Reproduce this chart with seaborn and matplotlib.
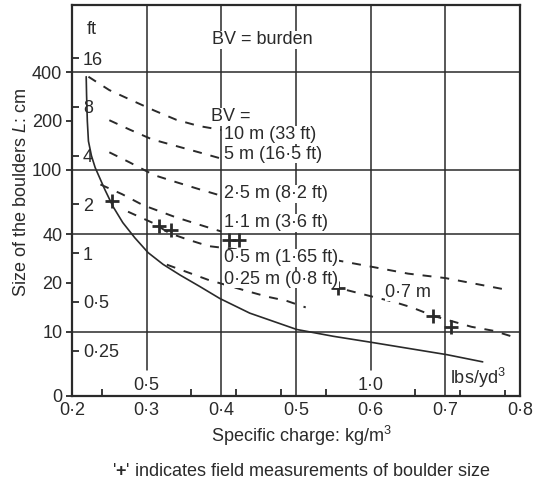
import matplotlib
matplotlib.use('Agg')
import matplotlib.pyplot as plt
import seaborn as sns
from matplotlib.ticker import NullLocator

# Values.
# x = specific charge (kg/m3), y = boulder size L (cm)
limit_x = [0.219, 0.2195, 0.2205, 0.222, 0.226, 0.231, 0.244, 0.255, 0.268, 0.284,
           0.302, 0.322, 0.345, 0.371, 0.398, 0.438, 0.501, 0.55, 0.603, 0.702, 0.75]
limit_y = [375, 290, 200, 150, 122, 103, 75.3, 59.1, 47.1, 38.0,
           30.7, 26.0, 22.3, 19.0, 16.0, 13.0, 10.3, 9.35, 8.55, 7.2, 6.5]

bv10_x = [0.222, 0.25, 0.28, 0.31, 0.34, 0.37, 0.40]
bv10_y = [375, 310, 268, 232, 203, 186, 176]
bv5_x = [0.25, 0.277, 0.307, 0.337, 0.37, 0.40]
bv5_y = [202, 177, 154, 141, 128, 117]
bv25_x = [0.25, 0.277, 0.31, 0.34, 0.37, 0.40]
bv25_y = [128, 111, 92.5, 83.6, 75.8, 69]
bv11_x = [0.238, 0.267, 0.295, 0.338, 0.37, 0.40]
bv11_y = [81, 70.6, 60.4, 51, 45.8, 41.5]
bv05_x = [0.275, 0.31, 0.33, 0.355, 0.383, 0.40, 0.55, 0.60, 0.65, 0.70, 0.78]
bv05_y = [55, 46.5, 40.6, 37, 33.7, 33, 27.8, 25.2, 22.8, 21.4, 18.2]
bv025_x = [0.327, 0.382, 0.436, 0.462, 0.487, 0.513]
bv025_y = [25.9, 20.9, 17.7, 16.4, 15.5, 14.1]
field07_x = [0.545, 0.575, 0.603, 0.63, 0.655, 0.684, 0.735, 0.765, 0.79]
field07_y = [19.2, 17.7, 16.4, 15.3, 14.1, 12.5, 10.7, 10.1, 9.3]

# field measurements ('+')
plus_x = [0.254, 0.316, 0.333, 0.41, 0.424, 0.556, 0.684, 0.707]
plus_y = [64, 45, 42.5, 37, 37, 18.7, 12.5, 10.6]

bv_labels = ['10 m (33 ft)', '5 m (16·5 ft)', '2·5 m (8·2 ft)',
             '1·1 m (3·6 ft)', '0·5 m (1·65 ft)', '0·25 m (0·8 ft)']

cm_ticks = [4.0, 10, 20, 40, 100, 200, 400]
cm_tick_labels = ['0', '10', '20', '40', '100', '200', '400']
ft_ticks = [16, 8, 4, 2, 1, 0.5, 0.25]
ft_tick_labels = ['16', '8', '4', '2', '1', '0·5', '0·25']
kg_ticks = [0.2, 0.3, 0.4, 0.5, 0.6, 0.7, 0.8]
kg_tick_labels = ['0·2', '0·3', '0·4', '0·5', '0·6', '0·7', '0·8']
lb_major = [0.5, 1.0]
lb_major_labels = ['0·5', '1·0']
lb_minor = [0.4, 0.6, 0.7, 0.8, 0.9, 1.1, 1.2, 1.3]

cm_grid = [10, 40, 100, 400]
kg_grid = [0.4, 0.5, 0.7]

FT_TO_CM = 30.48
LB_TO_KG = 0.6  # the figure's lbs/yd3 scale puts 1.0 lbs/yd3 at 0.6 kg/m3

sns.set_style('white')
plt.rcParams['font.family'] = ['Liberation Sans', 'DejaVu Sans']
plt.rcParams['font.size'] = 13
plt.rcParams['mathtext.fontset'] = 'custom'
plt.rcParams['mathtext.rm'] = 'Liberation Sans'
plt.rcParams['mathtext.it'] = 'Liberation Sans:italic'
plt.rcParams['mathtext.bf'] = 'Liberation Sans:bold'
INK = '#2a2a2a'
DASH = (0, (4.6, 4.6))
box = dict(facecolor='white', edgecolor='none', pad=0.3)

fig = plt.figure(figsize=(5.35, 4.86), dpi=100)
ax = fig.add_axes([0.1346, 0.1852, 0.8374, 0.8045])
ax.set_yscale('log')
ax.set_xlim(0.2, 0.8)
ax.set_ylim(4.0, 1040)

# grid
for y in cm_grid:
    ax.axhline(y, color=INK, lw=1.1, zorder=1)
for x in kg_grid:
    ax.axvline(x, color=INK, lw=1.1, zorder=1)
for lb in lb_major:
    ax.axvline(lb * LB_TO_KG, ymin=0.066, color=INK, lw=1.1, zorder=1)

# curves
sns.lineplot(x=limit_x, y=limit_y, ax=ax, color=INK, lw=1.2, sort=False, estimator=None, zorder=3)
for xs, ys in [(bv10_x, bv10_y), (bv5_x, bv5_y), (bv25_x, bv25_y), (bv11_x, bv11_y),
               (bv05_x, bv05_y), (bv025_x, bv025_y), (field07_x, field07_y)]:
    sns.lineplot(x=xs, y=ys, ax=ax, color=INK, lw=1.4, linestyle=DASH,
                 sort=False, estimator=None, zorder=3)
sns.scatterplot(x=plus_x, y=plus_y, ax=ax, marker='+', s=100, color=INK, linewidth=2, zorder=4)

# labels on the curves
label_y = [164, 124, 71, 47, 28.6, 21]
for txt, y in zip(bv_labels, label_y):
    ax.text(0.404, y, txt, ha='left', va='center', color=INK, bbox=box, zorder=5)
ax.text(0.386, 212, 'BV =', ha='left', va='center', color=INK, bbox=box, zorder=5)
ax.text(0.387, 635, 'BV = burden', ha='left', va='center', color=INK, bbox=box, zorder=5)
ax.text(0.619, 17.4, '0·7 m', ha='left', va='center', color=INK, bbox=box, zorder=5)
ax.text(0.706, 0.015, 'lbs/yd$^3$', transform=ax.get_xaxis_transform(),
        ha='left', va='bottom', color=INK, bbox=box, zorder=5)
ax.text(0.032, 730, 'ft', transform=ax.get_yaxis_transform(),
        ha='left', va='center', color=INK)

# main axes ticks
ax.set_yticks(cm_ticks, labels=cm_tick_labels)
ax.yaxis.set_minor_locator(NullLocator())
ax.tick_params(axis='y', direction='out', length=4, width=1.3, pad=3, colors=INK, left=True)
ax.set_xticks(kg_ticks, labels=kg_tick_labels)
ax.tick_params(axis='x', length=0, pad=4, colors=INK)
for s in ax.spines.values():
    s.set_linewidth(1.6)
    s.set_color(INK)

# ft scale inside the left edge
ft_ax = ax.secondary_yaxis(0, functions=(lambda c: c / FT_TO_CM, lambda f: f * FT_TO_CM))
ft_ax.set_alignment('right')
ft_ax.set_ticks(ft_ticks, labels=ft_tick_labels)
ft_ax.yaxis.set_minor_locator(NullLocator())
ft_ax.tick_params(axis='y', which='major', direction='out', length=5, width=1.3, pad=3, colors=INK)
ft_ax.spines['right'].set_visible(False)

# lbs/yd3 scale inside the bottom edge
lb_ax = ax.secondary_xaxis(0, functions=(lambda k: k / LB_TO_KG, lambda l: l * LB_TO_KG))
lb_ax.set_alignment('top')
lb_ax.set_ticks(lb_major, labels=lb_major_labels)
lb_ax.set_ticks(lb_minor, minor=True)
lb_ax.tick_params(axis='x', which='major', length=0, pad=1.5, colors=INK)
lb_ax.tick_params(axis='x', which='minor', direction='out', length=5, width=1.3, colors=INK)
lb_ax.spines['top'].set_visible(False)

ax.set_ylabel(r'Size of the boulders $\mathit{L}$: cm', color=INK)
ax.yaxis.set_label_coords(-0.094, 0.52)
ax.set_xlabel('Specific charge: kg/m$^3$', color=INK)
ax.xaxis.set_label_coords(0.513, -0.072)
ax.xaxis.label.set_va('top')

fig.text(301 / 535, 0.029, "'$\\mathbf{+}$' indicates field measurements of boulder size",
         ha='center', va='center', color=INK)

fig.savefig('out.png', dpi=100, facecolor='white')
